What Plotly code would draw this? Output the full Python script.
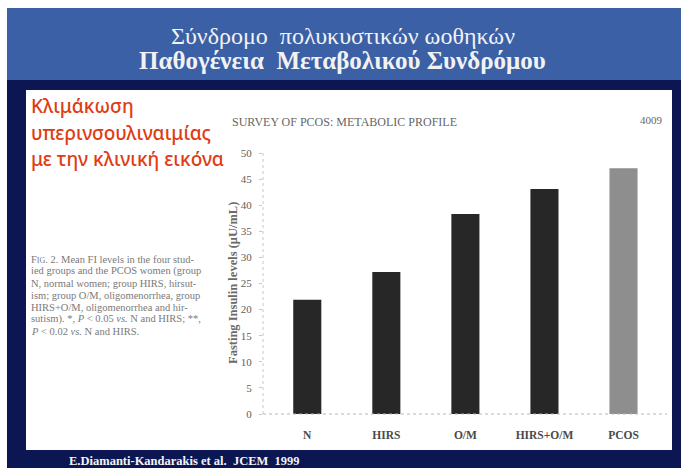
import plotly.graph_objects as go

# ---- data ----
categories = ["N", "HIRS", "O/M", "HIRS+O/M", "PCOS"]
fasting_insulin = [21.9, 27.2, 38.3, 43.1, 47.1]
bar_colors = ["#272727", "#272727", "#272727", "#272727", "#8e8e8e"]
sig_marks = ["", "", "", "*", "**"]
sig_y = [None, None, None, 53.8, 55.6]
y_ticks = [0, 5, 10, 15, 20, 25, 30, 35, 40, 45, 50]

caption_lines = [
    "F<span style='font-size:8px'>IG</span>. 2. Mean FI levels in the four stud-",
    "ied groups and the PCOS women (group",
    "N, normal women; group HIRS, hirsut-",
    "ism; group O/M, oligomenorrhea, group",
    "HIRS+O/M, oligomenorrhea and hir-",
    "sutism). *, <i>P</i> &lt; 0.05 <i>vs.</i> N and HIRS; **,",
    "<i>P</i> &lt; 0.02 <i>vs.</i> N and HIRS.",
]
red_lines = ["Κλιμάκωση", "υπερινσουλιναιμίας", "με την κλινική εικόνα"]

W, H = 681, 468
L, R, T, B = 263, 667, 153, 414


def px(x):
    return (x - L) / (R - L)


def py(y):
    return (B - y) / (B - T)


NAVY = "#0b1652"
BLUE = "#3b60a6"
SERIF = "'Liberation Serif', 'DejaVu Serif', serif"

fig = go.Figure()
fig.add_trace(go.Bar(
    x=categories, y=fasting_insulin,
    marker=dict(color=bar_colors, line=dict(width=0)),
    hoverinfo="skip",
))

shapes = [
    dict(type="rect", xref="paper", yref="paper", x0=px(0), x1=px(W), y0=py(0), y1=py(8),
         fillcolor="white", line=dict(width=0), layer="below"),
    dict(type="rect", xref="paper", yref="paper", x0=px(0), x1=px(7), y0=py(0), y1=py(H),
         fillcolor="white", line=dict(width=0), layer="below"),
    dict(type="rect", xref="paper", yref="paper", x0=px(7), x1=px(W), y0=py(8), y1=py(80),
         fillcolor=BLUE, line=dict(width=0), layer="below"),
    dict(type="rect", xref="paper", yref="paper", x0=px(26), x1=px(672), y0=py(90), y1=py(450),
         fillcolor="white", line=dict(width=0), layer="below"),
    # dotted axis lines
    dict(type="line", xref="paper", yref="paper", x0=0, x1=0, y0=0, y1=1,
         line=dict(color="#c8c8c8", width=1, dash="dot")),
    dict(type="line", xref="paper", yref="paper", x0=0, x1=1, y0=0, y1=0,
         line=dict(color="#b8b8b8", width=1, dash="dot")),
]

ann = []
# header
ann.append(dict(text="Σύνδρομο  πολυκυστικών ωοθηκών", x=px(343), y=py(36), xref="paper", yref="paper",
                showarrow=False, xanchor="center", yanchor="middle",
                font=dict(family=SERIF, size=24, color="#f2f2f2")))
ann.append(dict(text="<b>Παθογένεια  Μεταβολικού Συνδρόμου</b>", x=px(342), y=py(61), xref="paper", yref="paper",
                showarrow=False, xanchor="center", yanchor="middle",
                font=dict(family=SERIF, size=25, color="#f2f2f2")))
# red title
for i, t in enumerate(red_lines):
    ann.append(dict(text=t, x=px(29), y=py(106 + i * 26.5), xref="paper", yref="paper",
                    showarrow=False, xanchor="left", yanchor="middle",
                    font=dict(family="'Noto Sans', 'DejaVu Sans', sans-serif", size=19,
                              color="#e03c14", weight=500)))
# caption
for i, t in enumerate(caption_lines):
    ann.append(dict(text=t, x=px(29), y=py(259 + i * 12), xref="paper", yref="paper",
                    showarrow=False, xanchor="left", yanchor="middle",
                    font=dict(family=SERIF, size=10.5, color="#7a7a7a")))
# chart header texts
ann.append(dict(text="SURVEY OF PCOS: METABOLIC PROFILE", x=px(230), y=py(122), xref="paper", yref="paper",
                showarrow=False, xanchor="left", yanchor="middle",
                font=dict(family=SERIF, size=12, color="#666666")))
ann.append(dict(text="4009", x=px(665), y=py(120), xref="paper", yref="paper",
                showarrow=False, xanchor="right", yanchor="middle",
                font=dict(family=SERIF, size=11, color="#666666")))
# significance marks
for c, m, yv in zip(categories, sig_marks, sig_y):
    if m:
        ann.append(dict(text=m, x=c, y=yv, xref="x", yref="y", showarrow=False,
                        xanchor="center", yanchor="middle",
                        font=dict(family=SERIF, size=8, color="#444444")))
# citation
ann.append(dict(text="<b>E.Diamanti-Kandarakis et al.  JCEM  1999</b>", x=px(67), y=py(461), xref="paper", yref="paper",
                showarrow=False, xanchor="left", yanchor="middle",
                font=dict(family=SERIF, size=12.5, color="#f4f4f4")))
# y-axis title
ann.append(dict(text="<b>Fasting Insulin levels (μU/mL)</b>", x=px(233), y=py(283), xref="paper", yref="paper",
                showarrow=False, xanchor="center", yanchor="middle", textangle=-90,
                font=dict(family=SERIF, size=12.5, color="#6a6a6a")))

fig.update_layout(
    width=W, height=H, autosize=False,
    margin=dict(l=L, r=W - R, t=T, b=H - B, pad=0),
    paper_bgcolor=NAVY, plot_bgcolor="rgba(0,0,0,0)",
    bargap=0.645, showlegend=False,
    shapes=shapes, annotations=ann,
    xaxis=dict(range=[-0.56, 4.55], showgrid=False, showline=False, zeroline=False,
               ticks="", ticklabelstandoff=12,
               tickfont=dict(family=SERIF, size=11.5, color="#4a4a4a"),
               tickprefix="<b>", ticksuffix="</b>"),
    yaxis=dict(range=[0, 50], tickvals=y_ticks, showgrid=False, showline=False, zeroline=False,
               ticks="outside", ticklen=3, tickcolor="#c8c8c8", ticklabelstandoff=5,
               tickfont=dict(family=SERIF, size=11, color="#606060")),
)

fig.write_html("out.html")
